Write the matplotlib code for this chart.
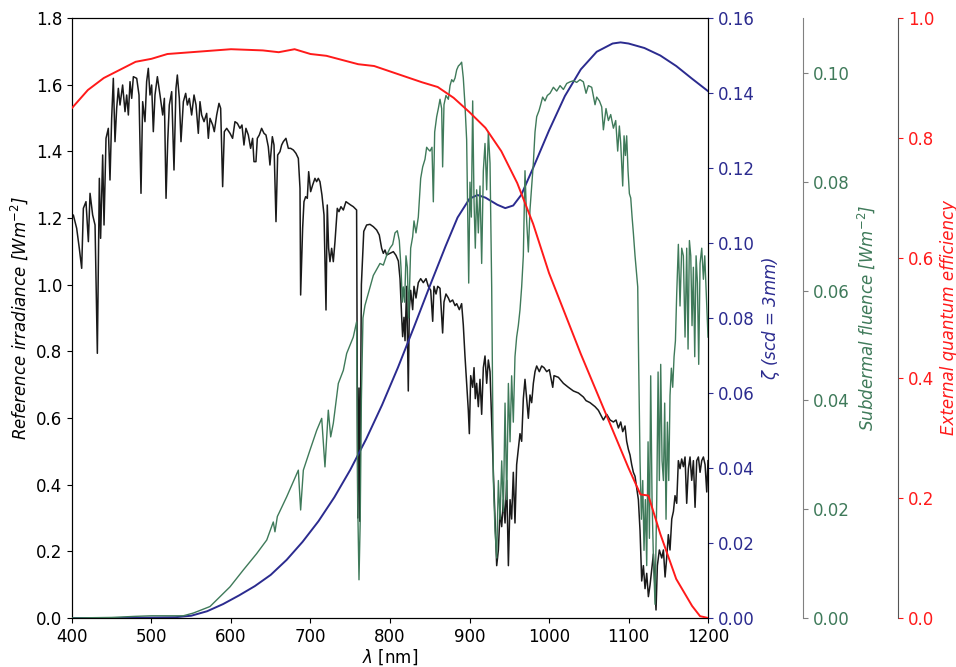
import matplotlib
matplotlib.use('Agg')
import matplotlib.pyplot as plt

# reference irradiance (black)
irr_nm = [400, 401.7, 405.9, 409.2, 412.2, 414.3, 417.6, 420.6, 422.7, 426, 429, 431.9, 434.4, 436, 438.6,
          440.3, 442.8, 445.7, 447.8, 449.9, 452, 454.1, 456.2, 458.3, 460.4, 463.7, 466.7, 468.8, 470.9,
          473, 475.1, 477.2, 481.4, 484.3, 486.8, 488.9, 491.8, 493.9, 496, 498.1, 500.2, 502.3, 504.4,
          507.4, 510.7, 514.1, 516.2, 518.3, 520.4, 522.4, 525.4, 528.3, 530.8, 532.5, 535, 537.1, 540.1,
          543, 545.1, 547.6, 550.5, 553.5, 556, 558.9, 561, 563.1, 566.1, 569.4, 571.5, 573.6, 577, 579,
          582, 584.9, 587, 589.5, 591.6, 594.6, 598.8, 602, 605, 608, 611.3, 613.8, 616.3, 618.8, 621.8,
          624.7, 627.2, 628.9, 631.4, 633.1, 635.6, 638.5, 641.5, 644, 646.9, 649, 652, 654.1, 656.6,
          658.7, 661.6, 663.7, 665.8, 669.1, 672.1, 675, 678.4, 681.7, 684.7, 686.8, 687.6, 690.1, 691.8,
          693.9, 696, 697.7, 700.2, 702.7, 705.6, 707.7, 709.8, 711.9, 714.4, 717, 719.5, 721.1, 722.8,
          724.5, 726.6, 728.7, 730.8, 733.7, 735.8, 738.3, 741.3, 744.6, 747.5, 750.5, 753.8, 756, 758,
          759.5, 761, 762, 764, 767, 770.6, 774.8, 779, 783.2, 786.5, 789.5, 791.6, 793.7, 795.8, 800,
          804.2, 807.5, 810.5, 812.6, 814.7, 815.9, 817.6, 818.9, 821, 823, 824.3, 826, 828.5, 830.2,
          832.7, 835.6, 838.6, 841.9, 845.3, 848.2, 851.2, 853.7, 855.3, 857.9, 860, 862.9, 865, 866.2,
          867.9, 870.4, 873.4, 875.5, 878.8, 881.8, 883.9, 887.2, 890.1, 892.2, 894.3, 896.4, 898.5,
          899.8, 901.5, 904, 905.7, 907.3, 909, 911.1, 913.2, 915.3, 917.4, 919.5, 921.6, 923.7, 925.8,
          927.9, 930, 932.1, 934.2, 936.3, 938.4, 940.5, 942.6, 944.7, 946.8, 948.9, 951, 953, 955.1,
          957.2, 959.3, 961.4, 963.5, 965.6, 967.7, 969.8, 971.9, 974, 976.1, 978.2, 980.3, 982.4, 984.5,
          987.8, 990.8, 993.7, 997.1, 1000.4, 1004.7, 1006.3, 1011.8, 1018.1, 1024.4, 1030.7, 1037,
          1043.2, 1046.6, 1051.6, 1057.9, 1062.1, 1068.4, 1072.6, 1076.8, 1081, 1084.3, 1087.3, 1090.2,
          1092.7, 1095.6, 1097.7, 1099.8, 1101.9, 1104, 1106.1, 1108.2, 1110.3, 1112.4, 1114.5, 1116.6,
          1118.7, 1120.8, 1122.9, 1125, 1127.1, 1129.2, 1131.3, 1133.4, 1134.6, 1136.3, 1138.8, 1141.8,
          1143.9, 1146, 1148, 1150.1, 1152.2, 1154.4, 1156.5, 1158.5, 1160.6, 1162.7, 1164.8, 1166.9,
          1169, 1171.1, 1173.2, 1175.3, 1177.4, 1179.5, 1181.6, 1183.7, 1185.8, 1187.9, 1190, 1192.1,
          1194.2, 1196.3, 1198.4, 1200]
irr_val = [1.20, 1.209, 1.169, 1.109, 1.049, 1.229, 1.249, 1.129, 1.274, 1.209, 1.179, 0.794, 1.319, 1.139, 1.389,
           1.179, 1.439, 1.469, 1.314, 1.499, 1.619, 1.429, 1.529, 1.589, 1.539, 1.599, 1.519, 1.569, 1.509,
           1.609, 1.559, 1.624, 1.619, 1.569, 1.274, 1.549, 1.489, 1.609, 1.649, 1.569, 1.599, 1.459, 1.569,
           1.624, 1.569, 1.509, 1.559, 1.259, 1.429, 1.539, 1.579, 1.344, 1.589, 1.629, 1.559, 1.429, 1.549,
           1.574, 1.539, 1.559, 1.509, 1.569, 1.539, 1.454, 1.549, 1.509, 1.489, 1.514, 1.439, 1.499, 1.479, 1.459,
           1.509, 1.544, 1.529, 1.294, 1.459, 1.469, 1.454, 1.439, 1.489, 1.484, 1.469, 1.479, 1.419, 1.469, 1.449,
           1.409, 1.439, 1.369, 1.369, 1.439, 1.449, 1.469, 1.454, 1.449, 1.414, 1.359, 1.444, 1.419, 1.189,
           1.389, 1.399, 1.419, 1.429, 1.439, 1.409, 1.409, 1.404, 1.394, 1.379, 1.289, 0.969, 1.169, 1.249,
           1.264, 1.259, 1.339, 1.279, 1.299, 1.319, 1.309, 1.319, 1.309, 1.269, 1.209, 0.924, 1.239, 1.109,
           1.069, 1.109, 1.069, 1.129, 1.229, 1.219, 1.234, 1.224, 1.249, 1.244, 1.239, 1.234, 1.229, 1.224,
           0.30, 0.69, 0.29, 1.00, 1.16, 1.179, 1.181, 1.174, 1.164, 1.149, 1.109, 1.094, 1.104, 1.089, 1.094,
           1.099, 1.088, 1.071, 1.018, 0.902, 0.844, 0.902, 0.832, 0.995, 0.681, 0.925, 0.983, 0.925, 0.995,
           0.960, 1.006, 1.018, 1.006, 1.018, 0.995, 0.983, 0.890, 0.995, 0.972, 0.995, 0.989, 0.902, 0.855,
           0.948, 0.972, 0.960, 0.948, 0.954, 0.937, 0.943, 0.925, 0.943, 0.879, 0.786, 0.704, 0.623,
           0.553, 0.727, 0.692, 0.751, 0.658, 0.704, 0.634, 0.716, 0.611, 0.751, 0.786, 0.704, 0.774, 0.739,
           0.588, 0.437, 0.297, 0.157, 0.204, 0.320, 0.274, 0.355, 0.285, 0.413, 0.157, 0.355, 0.297, 0.437,
           0.285, 0.460, 0.506, 0.553, 0.530, 0.658, 0.716, 0.658, 0.599, 0.669, 0.646, 0.704, 0.739, 0.756,
           0.739, 0.756, 0.751, 0.739, 0.745, 0.692, 0.727, 0.722, 0.704, 0.692, 0.681, 0.675,
           0.663, 0.652, 0.646, 0.634, 0.623, 0.594, 0.611, 0.594, 0.588, 0.594, 0.570, 0.588,
           0.559, 0.576, 0.530, 0.506, 0.489, 0.460, 0.437, 0.425, 0.390, 0.355, 0.262, 0.111,
           0.157, 0.088, 0.134, 0.064, 0.099, 0.146, 0.192, 0.088, 0.024, 0.157, 0.204, 0.180,
           0.204, 0.123, 0.180, 0.250, 0.204, 0.297, 0.320, 0.367, 0.344, 0.472, 0.448, 0.477,
           0.454, 0.483, 0.344, 0.448, 0.483, 0.413, 0.472, 0.332, 0.472, 0.483, 0.437, 0.472,
           0.483, 0.460, 0.378, 0.472]

# zeta (blue)
zeta_nm = [400, 460, 500, 530, 550, 570, 590, 610, 630, 650, 670, 690, 710, 730, 750, 770, 790, 810, 830,
           850, 870, 885, 900, 910, 920, 935, 945, 955, 965, 980, 1000, 1020, 1040, 1060, 1080, 1090, 1100,
           1120, 1140, 1160, 1180, 1200]
zeta_val = [0.0, 0.0, 0.0001, 0.0002, 0.0006, 0.0018, 0.0037, 0.006, 0.0085, 0.0115, 0.0155, 0.0203,
            0.0258, 0.0322, 0.0395, 0.0477, 0.0568, 0.0668, 0.0775, 0.0885, 0.0992, 0.1068, 0.1118,
            0.1128, 0.1121, 0.1102, 0.1093, 0.1100, 0.1128, 0.1200, 0.1300, 0.1392, 0.1463, 0.1510,
            0.1532, 0.1535, 0.1532, 0.1520, 0.1500, 0.1472, 0.1438, 0.1405]

# subdermal fluence (green)
flu_nm = [400, 450, 480, 500, 520, 540, 552.6, 573.6, 590.3, 598.7, 615.5, 632.3, 645, 653.2, 655.3, 658.3,
          670, 684.7, 687.6, 691, 699.4, 707.8, 714.1, 718.2, 722.4, 725.4, 728.7, 730.8, 735, 741.3,
          745.5, 753.8, 758, 759.5, 761, 762.5, 764, 766, 768.5, 779, 787.4, 791.6, 795.8, 800, 803.4,
          806.3, 809.2, 811.7, 813.8, 815.5, 816.8, 818.4, 820.1, 821.8, 823.5, 826, 828.5, 830.2, 832.7,
          835.6, 838.6, 841.1, 844, 846.1, 848.2, 850.3, 852.8, 854.5, 856.2, 858.7, 860.8, 862.9, 865,
          866.2, 867.9, 870.4, 873.4, 875.5, 877.6, 879.7, 881.8, 883.9, 886, 888.1, 890.1, 892.2, 894.3,
          896.4, 897.7, 899, 900.6, 902.3, 904, 905.7, 907.3, 909, 911.1, 913.2, 915.3, 917.4, 919.5,
          921.6, 923.7, 925.8, 927.9, 930, 932.1, 934.2, 936.3, 938.4, 940.5, 942.6, 944.7, 946.8, 948.9,
          951, 953, 955.1, 957.2, 959.3, 961.4, 963.5, 965.6, 967.7, 969.8, 971.9, 974, 976.1, 978.2,
          980.3, 982.4, 984.5, 987.4, 989.5, 992, 995, 997.9, 1001.3, 1005.5, 1009.7, 1013.9, 1018.1,
          1022.3, 1026.5, 1030.7, 1034.8, 1039, 1043.2, 1046.6, 1049.5, 1053.7, 1057.9, 1060, 1063.4,
          1066.3, 1068.4, 1071.7, 1074.7, 1077.6, 1081, 1083.9, 1086.4, 1088.5, 1090.2, 1092.7, 1094.4,
          1096.1, 1097.7, 1099.4, 1101.1, 1102.8, 1104.5, 1106.1, 1108.2, 1110.3, 1111.6, 1112.8, 1114.5,
          1116.2, 1117.9, 1119.5, 1121.2, 1122.9, 1124.6, 1126.3, 1127.9, 1129.6, 1131.3, 1133.4, 1135.5,
          1137.2, 1138.8, 1140.5, 1142.2, 1143.9, 1145.5, 1147.2, 1148.9, 1150.6, 1152.2, 1153.9, 1155.6,
          1157.3, 1159, 1160.6, 1162.7, 1164.8, 1166.9, 1169, 1171.1, 1173.2, 1174.9, 1176.6, 1178.3,
          1179.9, 1181.6, 1183.3, 1185, 1186.7, 1188.3, 1190, 1192.1, 1194.2, 1195.9, 1197.5, 1200]
flu_val = [0.0, 0.0001, 0.0003, 0.0004, 0.0004, 0.0004, 0.0009, 0.0021, 0.0045, 0.0057, 0.0088, 0.0118, 0.0143,
           0.0176, 0.0158, 0.0186, 0.0222, 0.0271, 0.0198, 0.0271, 0.0308, 0.0344, 0.0366, 0.0277, 0.0381,
           0.0332, 0.0357, 0.0381, 0.0430, 0.0454, 0.0485, 0.0515, 0.0543, 0.0200, 0.0070, 0.0176, 0.0400,
           0.0550, 0.0573, 0.0628, 0.0650, 0.0647, 0.0665, 0.0678, 0.0685, 0.0706, 0.0710, 0.0692, 0.0643,
           0.0579, 0.0607, 0.0579, 0.0664, 0.0643, 0.0550, 0.0678, 0.0699, 0.0728, 0.0706, 0.0735, 0.0806,
           0.0827, 0.0841, 0.0863, 0.0859, 0.0856, 0.0863, 0.0763, 0.0891, 0.0919, 0.0934, 0.0951, 0.0934,
           0.0827, 0.0941, 0.0958, 0.0951, 0.0976, 0.0987, 0.0983, 0.0990, 0.1005, 0.1012, 0.1015, 0.1019,
           0.0990, 0.0941, 0.0877, 0.0749, 0.0614, 0.0799, 0.0735, 0.0948, 0.0763, 0.0678, 0.0785, 0.0706,
           0.0792, 0.0650, 0.0820, 0.0870, 0.0785, 0.0891, 0.0834, 0.0607, 0.0252, 0.0160, 0.0110, 0.0252,
           0.0181, 0.0288, 0.0195, 0.0394, 0.0217, 0.0430, 0.0323, 0.0444, 0.0359, 0.0479, 0.0515, 0.0536,
           0.0565, 0.0607, 0.0664, 0.0820, 0.0728, 0.0671, 0.0749, 0.0792, 0.0834, 0.0891, 0.0919, 0.0930,
           0.0941, 0.0955, 0.0948, 0.0958, 0.0962, 0.0973, 0.0966, 0.0976, 0.0969, 0.0980, 0.0983, 0.0985,
           0.0982, 0.0987, 0.0983, 0.0962, 0.0976, 0.0973, 0.0941, 0.0955, 0.0948, 0.0937, 0.0895, 0.0934,
           0.0912, 0.0923, 0.0898, 0.0912, 0.0856, 0.0902, 0.0870, 0.0792, 0.0884, 0.0848, 0.0884, 0.0820,
           0.0778, 0.0770, 0.0735, 0.0706, 0.0664, 0.0628, 0.0607, 0.0465, 0.0288, 0.0181, 0.0252, 0.0124,
           0.0217, 0.0096, 0.0323, 0.0146, 0.0444, 0.0217, 0.0110, 0.0025, 0.0217, 0.0451, 0.0252, 0.0465,
           0.0288, 0.0252, 0.0394, 0.0181, 0.0359, 0.0252, 0.0408, 0.0458, 0.0423, 0.0479, 0.0508, 0.0593,
           0.0685, 0.0572, 0.0678, 0.0664, 0.0515, 0.0678, 0.0493, 0.0692, 0.0664, 0.0536, 0.0643, 0.0479,
           0.0664, 0.0614, 0.0465, 0.0650, 0.0678, 0.0621, 0.0664, 0.0607, 0.0515]

# external quantum efficiency (red)
eqe_nm = [400, 420, 440, 480, 500, 520, 560, 600, 640, 660, 680, 700, 720, 760, 780, 800, 840, 860, 880, 900,
          920, 940, 960, 980, 1000, 1040, 1070, 1100, 1115, 1125, 1140, 1160, 1180, 1190, 1200]
eqe_val = [0.85, 0.88, 0.90, 0.927, 0.932, 0.94, 0.944, 0.948, 0.946, 0.943, 0.948, 0.94, 0.937, 0.923, 0.92,
           0.911, 0.893, 0.885, 0.867, 0.843, 0.817, 0.778, 0.725, 0.657, 0.575, 0.44, 0.345, 0.25, 0.206,
           0.204, 0.14, 0.065, 0.02, 0.003, 0.0]

c_blue = '#2b2b8f'
c_green = '#3f7a5a'
c_red = '#ff1a1a'

plt.rcParams['font.size'] = 12

fig = plt.figure(figsize=(9.56, 6.67), dpi=100)
ax = fig.add_axes([0.0753, 0.0735, 0.6653, 0.8995])

ax.plot(irr_nm, irr_val, color='#1a1a1a', lw=1.1)
ax.set_xlim(400, 1200)
ax.set_ylim(0, 1.8)
ax.set_yticks([0.0, 0.2, 0.4, 0.6, 0.8, 1.0, 1.2, 1.4, 1.6, 1.8])
ax.set_xlabel(r'$\lambda$ [nm]', labelpad=1)
ax.set_ylabel(r'Reference irradiance [Wm$^{-2}$]', style='italic')

# blue axis
ax2 = ax.twinx()
ax2.plot(zeta_nm, zeta_val, color=c_blue, lw=1.4)
ax2.set_ylim(0, 0.16)
ax2.set_yticks([0.0, 0.02, 0.04, 0.06, 0.08, 0.10, 0.12, 0.14, 0.16])
ax2.set_ylabel(r'$\zeta$ (scd = 3mm)', style='italic', color=c_blue)
ax2.tick_params(axis='y', colors=c_blue)

# green axis
ax3 = ax.twinx()
ax3.spines['right'].set_position(('axes', 1.149))
ax3.spines['right'].set_color('#808080')
ax3.plot(flu_nm, flu_val, color=c_green, lw=1.0)
ax3.set_ylim(0, 0.11)
ax3.set_yticks([0.0, 0.02, 0.04, 0.06, 0.08, 0.10])
ax3.set_ylabel(r'Subdermal fluence [Wm$^{-2}$]', style='italic', color=c_green)
ax3.tick_params(axis='y', colors='#808080', labelcolor=c_green)

# red axis
ax4 = ax.twinx()
ax4.spines['right'].set_position(('axes', 1.299))
ax4.spines['right'].set_color('#555555')
ax4.plot(eqe_nm, eqe_val, color=c_red, lw=1.4)
ax4.set_ylim(0, 1.0)
ax4.set_yticks([0.0, 0.2, 0.4, 0.6, 0.8, 1.0])
ax4.set_ylabel('External quantum efficiency', style='italic', color=c_red)
ax4.tick_params(axis='y', colors=c_red)

for a in (ax3, ax4):
    a.spines['top'].set_visible(False)
    a.spines['left'].set_visible(False)
    a.spines['bottom'].set_visible(False)

fig.savefig('out.png', dpi=100)
